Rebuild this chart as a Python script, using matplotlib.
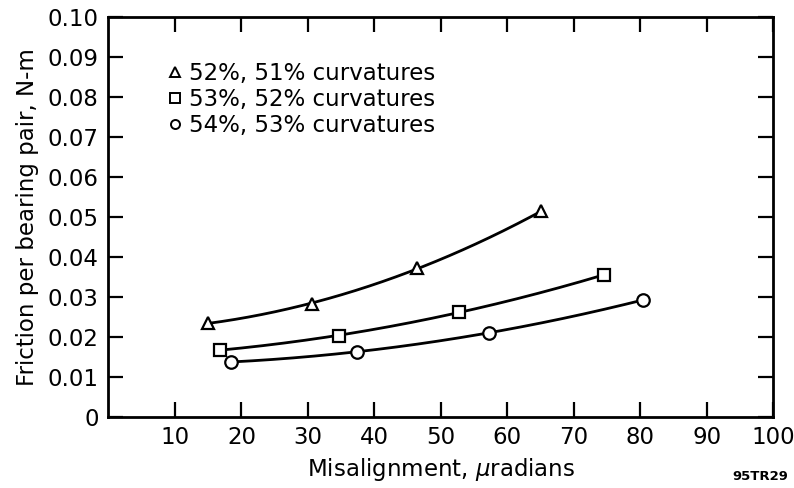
import numpy as np
import matplotlib
matplotlib.use("Agg")
import matplotlib.pyplot as plt

plt.rcParams['font.family'] = ['DejaVu Sans']
plt.rcParams['mathtext.fontset'] = 'dejavusans'

# curvature series
tri_x = [15.0, 30.6, 46.5, 65.1]
tri_y = [0.0234, 0.0282, 0.0372, 0.0513]
sq_x = [16.8, 34.7, 52.7, 74.5]
sq_y = [0.0167, 0.0202, 0.0262, 0.0354]
circ_x = [18.5, 37.4, 57.2, 80.5]
circ_y = [0.0137, 0.0162, 0.0210, 0.0292]

labels = ["52%, 51% curvatures", "53%, 52% curvatures", "54%, 53% curvatures"]
markers = ["^", "s", "o"]

x_ticks = [10, 20, 30, 40, 50, 60, 70, 80, 90, 100]
y_ticks = [0, 0.01, 0.02, 0.03, 0.04, 0.05, 0.06, 0.07, 0.08, 0.09, 0.10]

fig = plt.figure(figsize=(7.94, 4.88), dpi=100)
ax = fig.add_axes([0.1366, 0.1461, 0.837, 0.8197])

series = [(tri_x, tri_y), (sq_x, sq_y), (circ_x, circ_y)]
handles = []
for (xs, ys), m, lab in zip(series, markers, labels):
    coef = np.polyfit(xs, ys, 2)
    xx = np.linspace(xs[0], xs[-1], 200)
    ax.plot(xx, np.polyval(coef, xx), color="black", lw=2.0, zorder=2)
    ax.plot(xs, ys, linestyle="none", marker=m, ms=9, mfc="white",
            mec="black", mew=1.6, zorder=3)
    h, = ax.plot([], [], linestyle="none", marker=m, ms=6.5, mfc="white",
                 mec="black", mew=1.4, label=lab)
    handles.append(h)

ax.set_xlim(0, 100)
ax.set_ylim(0, 0.10)
ax.set_xticks(x_ticks)
ax.set_yticks(y_ticks)
ax.set_yticklabels(["0"] + ["%.2f" % v for v in y_ticks[1:]])
ax.tick_params(axis="both", direction="in", length=11, width=1.6,
               labelsize=16.5, top=True, right=True, pad=7)
for s in ax.spines.values():
    s.set_linewidth(2.0)

ax.set_xlabel(r"Misalignment, $\mu$radians", fontsize=16.5, labelpad=5)
ax.set_ylabel("Friction per bearing pair, N-m", fontsize=16.5, labelpad=6)

ax.legend(handles=handles, loc="upper left", bbox_to_anchor=(0.073, 0.915),
          frameon=False, fontsize=16.5, handlelength=0.6, handletextpad=0.3,
          labelspacing=0.12, borderpad=0)

fig.text(0.993, 0.01, "95TR29", ha="right", va="bottom", fontsize=9.5,
         fontweight="bold")

fig.savefig("out.png", dpi=100)
